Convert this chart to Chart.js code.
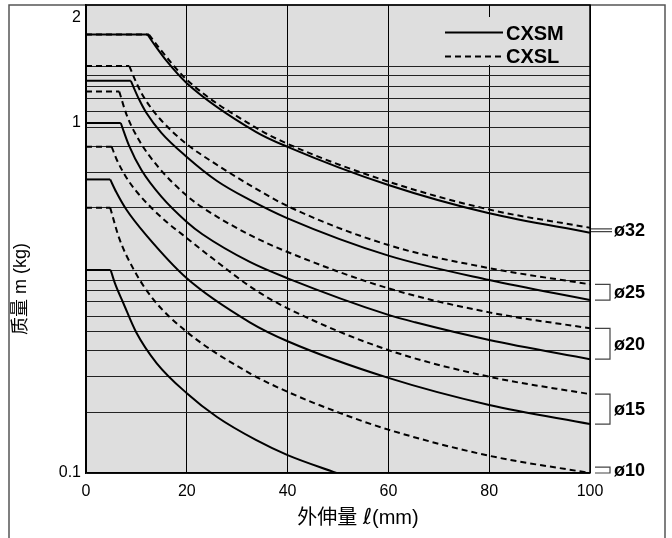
<!DOCTYPE html>
<html lang="zh">
<head>
<meta charset="UTF-8">
<title>质量 - 外伸量</title>
<script src="https://cdn.jsdelivr.net/npm/chart.js"></script>
<style>
  body { margin: 0; background: #fff; }
  canvas { display: block; }
</style>
</head>
<body>
<canvas id="chart" width="672" height="538"></canvas>
<script>
// 外伸量 ℓ (mm) / 质量 m (kg) — each curve: flat part [0, bend], then the decay
const cxsm32X = [0, 12.2, 13.9, 15.9, 20, 33.7, 40, 60, 80, 100];
const cxsm32Y = [1.79, 1.79, 1.65, 1.51, 1.30, 0.944, 0.855, 0.665, 0.552, 0.486];
const cxsl32X = [0, 12.5, 14.5, 20, 33.7, 40, 60, 80, 100];
const cxsl32Y = [1.79, 1.79, 1.64, 1.33, 0.97, 0.872, 0.68, 0.566, 0.502];

const cxsl25X = [0, 8.6, 10.2, 11.7, 14.7, 19.7, 25.7, 32.5, 40, 60, 80, 100];
const cxsl25Y = [1.455, 1.455, 1.284, 1.171, 1.027, 0.877, 0.764, 0.665, 0.579, 0.448, 0.385, 0.346];
const cxsm25X = [0, 8.9, 10.5, 12, 15, 20, 26, 32.5, 40, 60, 80, 100];
const cxsm25Y = [1.32, 1.32, 1.171, 1.068, 0.936, 0.80, 0.683, 0.603, 0.534, 0.418, 0.356, 0.312];

const cxsl20X = [0, 6.6, 8, 10.5, 14.5, 20, 23, 32.5, 40, 60, 80, 100];
const cxsl20Y = [1.23, 1.23, 1.061, 0.894, 0.744, 0.62, 0.575, 0.479, 0.428, 0.337, 0.2877, 0.259];
const cxsm20X = [0, 6.9, 8.5, 11, 15, 20, 23.1, 32.5, 40, 60, 65.3, 80, 100];
const cxsm20Y = [1.0, 1.0, 0.865, 0.734, 0.615, 0.5215, 0.481, 0.401, 0.360, 0.283, 0.2695, 0.240, 0.2115];

const cxsl15X = [0, 5.1, 6, 8, 10, 13, 16, 19.2, 25.1, 33.1, 40, 60, 80, 100];
const cxsl15Y = [0.8555, 0.8555, 0.792, 0.699, 0.638, 0.572, 0.5215, 0.479, 0.4106, 0.337, 0.2955, 0.2245, 0.1884, 0.168];
const cxsm15X = [0, 4.8, 6, 8, 11.9, 20, 32.5, 40, 60, 80, 100];
const cxsm15Y = [0.69, 0.69, 0.635, 0.566, 0.479, 0.360, 0.2695, 0.238, 0.187, 0.1565, 0.138];

const cxsl10X = [0, 4.8, 6.6, 9.4, 13.2, 20, 32.5, 40, 49.7, 60, 80, 100];
const cxsl10Y = [0.5728, 0.5728, 0.468, 0.383, 0.3155, 0.253, 0.1927, 0.1706, 0.1497, 0.133, 0.112, 0.1];
const cxsm10X = [0, 4.9, 5.75, 7.4, 9.9, 14, 20, 26, 33.7, 40, 49.7];
const cxsm10Y = [0.3802, 0.3802, 0.348, 0.306, 0.2533, 0.2062, 0.169, 0.1445, 0.1243, 0.1125, 0.1];

// axis ticks
const xTicks = [0, 20, 40, 60, 80, 100];
const yLabels = [0.1, 1, 2];
// horizontal rulings of the log paper
const yGrid = [0.1491, 0.1884, 0.2236, 0.2544, 0.2809, 0.3086, 0.3333, 0.3558, 0.3802,
               0.5728, 0.7211, 0.8555, 0.9696, 1.077, 1.1765, 1.2754, 1.3627, 1.455];

// bore size brackets on the right (upper / lower mass at ℓ = 100)
const boreNames = ['ø32', 'ø25', 'ø20', 'ø15', 'ø10'];
const boreTop = [0.502, 0.346, 0.259, 0.168, 0.104];
const boreBottom = [0.486, 0.312, 0.2115, 0.138, 0.1];

const FONT = "'Liberation Sans', Arial, 'DejaVu Sans', 'Noto Sans CJK SC', sans-serif";

function toPoints(xs, ys, from, to) {
    const pts = [];
    for (let i = from; i <= to; i++) pts.push({ x: xs[i], y: ys[i] });
    return pts;
}

// flat part as a straight line, the rest as a smooth curve (keeps the sharp bend)
function curve(xs, ys, dashed) {
    const style = {
        borderColor: '#000',
        borderWidth: 2,
        borderDash: dashed ? [6, 4] : [],
        pointRadius: 0,
        fill: false
    };
    return [
        Object.assign({ data: toPoints(xs, ys, 0, 1), tension: 0 }, style),
        Object.assign({ data: toPoints(xs, ys, 1, xs.length - 1), cubicInterpolationMode: 'monotone' }, style)
    ];
}

const datasets = [].concat(
    curve(cxsl32X, cxsl32Y, true), curve(cxsm32X, cxsm32Y, false),
    curve(cxsl25X, cxsl25Y, true), curve(cxsm25X, cxsm25Y, false),
    curve(cxsl20X, cxsl20Y, true), curve(cxsm20X, cxsm20Y, false),
    curve(cxsl15X, cxsl15Y, true), curve(cxsm15X, cxsm15Y, false),
    curve(cxsl10X, cxsl10Y, true), curve(cxsm10X, cxsm10Y, false)
);

// text made of pieces with their own fonts, centred on cx
function drawPieces(ctx, pieces, cx, cy) {
    let total = 0;
    pieces.forEach(p => { ctx.font = p.font; p.w = ctx.measureText(p.text).width; total += p.w; });
    let x = cx - total / 2;
    ctx.textAlign = 'left';
    pieces.forEach(p => { ctx.font = p.font; ctx.fillText(p.text, x, cy); x += p.w; });
}

const decorations = {
    id: 'decorations',
    beforeDraw(chart) {
        const { ctx, chartArea: a } = chart;
        ctx.save();
        ctx.fillStyle = '#fff';
        ctx.fillRect(0, 0, chart.width, chart.height);
        ctx.fillStyle = '#dedede';
        ctx.fillRect(a.left, a.top, a.right - a.left, a.bottom - a.top);
        // outer frame
        ctx.strokeStyle = '#555';
        ctx.lineWidth = 1.5;
        ctx.beginPath();
        ctx.moveTo(9, chart.height);
        ctx.lineTo(9, a.top);
        ctx.lineTo(665, a.top);
        ctx.lineTo(665, chart.height);
        ctx.stroke();
        ctx.restore();
    },
    beforeDatasetsDraw(chart) {
        // legend box hides the rulings behind it
        const { ctx, chartArea: a } = chart;
        ctx.save();
        ctx.fillStyle = '#dedede';
        ctx.fillRect(440, 17, a.right - 440 - 1, 48);
        ctx.restore();
    },
    afterDraw(chart) {
        const { ctx, chartArea: a } = chart;
        const y = chart.scales.y;
        ctx.save();
        // frame of the plot
        ctx.strokeStyle = '#000';
        ctx.lineWidth = 1.5;
        ctx.beginPath();
        ctx.moveTo(a.left, a.top);
        ctx.lineTo(a.right, a.top);
        ctx.lineTo(a.right, a.bottom);
        ctx.stroke();

        // legend
        ctx.lineWidth = 2;
        ctx.beginPath();
        ctx.moveTo(445, 32.5);
        ctx.lineTo(503, 32.5);
        ctx.stroke();
        ctx.setLineDash([6, 4]);
        ctx.beginPath();
        ctx.moveTo(445, 56.5);
        ctx.lineTo(503, 56.5);
        ctx.stroke();
        ctx.setLineDash([]);
        ctx.fillStyle = '#000';
        ctx.font = 'bold 20px ' + FONT;
        ctx.textBaseline = 'middle';
        ctx.textAlign = 'left';
        ctx.fillText('CXSM', 506, 34);
        ctx.fillText('CXSL', 506, 57);

        // bore brackets
        ctx.strokeStyle = '#444';
        ctx.lineWidth = 1.2;
        ctx.font = 'bold 18px ' + FONT;
        boreNames.forEach((name, i) => {
            const y1 = y.getPixelForValue(boreTop[i]);
            const y2 = y.getPixelForValue(boreBottom[i]);
            ctx.beginPath();
            if (i === 0) {
                ctx.moveTo(a.right + 1, y1 + 1); ctx.lineTo(a.right + 22, y1 + 1);
                ctx.moveTo(a.right + 1, y2 - 1); ctx.lineTo(a.right + 22, y2 - 1);
            } else {
                ctx.moveTo(a.right + 5, y1); ctx.lineTo(a.right + 20, y1);
                ctx.lineTo(a.right + 20, y2); ctx.lineTo(a.right + 5, y2);
            }
            ctx.stroke();
            ctx.fillText(name, a.right + 24, (y1 + y2) / 2 + 1);
        });

        // axis titles
        drawPieces(ctx, [
            { text: '外伸量 ', font: '20px ' + FONT },
            { text: 'ℓ', font: "22px 'DejaVu Sans', sans-serif" },
            { text: '(mm)', font: '20px ' + FONT }
        ], 358, 518);
        ctx.textAlign = 'center';
        ctx.translate(21, 289);
        ctx.rotate(-Math.PI / 2);
        ctx.font = '18px ' + FONT;
        ctx.fillText('质量 m (kg)', 0, 0);
        ctx.restore();
    }
};

new Chart(document.getElementById('chart'), {
    type: 'line',
    data: { datasets },
    plugins: [decorations],
    options: {
        responsive: false,
        animation: false,
        devicePixelRatio: 1,
        layout: { padding: { top: 5, right: 82, left: 0, bottom: 0 } },
        plugins: { legend: { display: false }, tooltip: { enabled: false } },
        scales: {
            x: {
                type: 'linear',
                min: 0,
                max: 100,
                afterBuildTicks: s => { s.ticks = xTicks.map(v => ({ value: v })); },
                afterFit: s => { s.height = 65; },
                ticks: { color: '#000', font: { family: FONT, size: 16 }, padding: 9 },
                grid: { color: '#000', lineWidth: 1, drawTicks: false },
                border: { color: '#000', width: 1.5 }
            },
            y: {
                type: 'logarithmic',
                min: 0.1,
                max: 2.174,
                afterBuildTicks: s => {
                    s.ticks = yGrid.concat(yLabels).sort((p, q) => p - q).map(v => ({ value: v }));
                },
                afterFit: s => { s.width = 86; s.paddingTop = 0; s.paddingBottom = 0; },
                ticks: {
                    autoSkip: false,
                    color: '#000',
                    font: { family: FONT, size: 16 },
                    padding: 5,
                    callback: v => yLabels.includes(v) ? String(v) : ''
                },
                grid: {
                    drawTicks: false,
                    lineWidth: 1,
                    color: c => (c.tick && yLabels.includes(c.tick.value) && c.tick.value !== 0.1) ? 'rgba(0,0,0,0)' : '#222'
                },
                border: { color: '#000', width: 1.5 }
            }
        }
    }
});
</script>
</body>
</html>
